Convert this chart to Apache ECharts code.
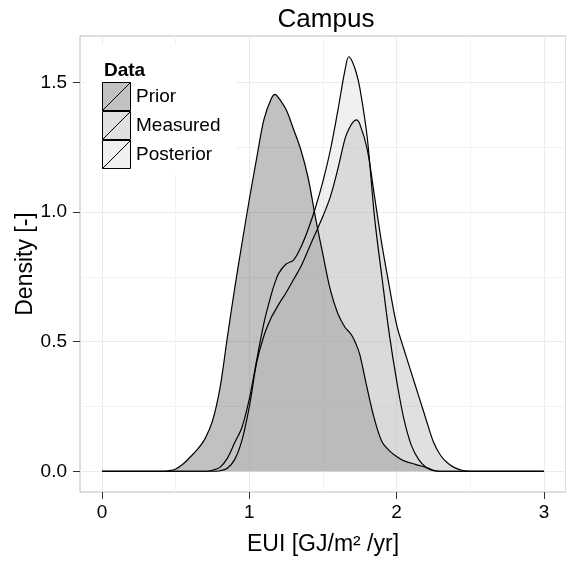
<!DOCTYPE html>
<html>
<head>
<meta charset="utf-8">
<script src="https://cdn.jsdelivr.net/npm/echarts@6/dist/echarts.min.js"></script>
<style>
  html, body { margin: 0; padding: 0; background: #fff; }
  #chart { width: 566px; height: 561px; }
</style>
</head>
<body>
<div id="chart"></div>
<script>
// EUI grid (GJ/m2/yr) shared by the three density estimates
const eui = [0,
  0.40, 0.45, 0.50, 0.55, 0.60, 0.65, 0.70, 0.75, 0.80, 0.85,
  0.90, 0.95, 1.00, 1.05, 1.10, 1.15, 1.175, 1.20, 1.25, 1.30, 1.35,
  1.40, 1.45, 1.50, 1.55, 1.60, 1.65, 1.675, 1.70, 1.725, 1.75, 1.80, 1.85,
  1.90, 1.95, 2.00, 2.05, 2.10, 2.15, 2.20, 2.25, 2.30, 2.35,
  2.40, 2.45, 2.50,
  3];

const prior = [0,
  0, 0.002, 0.009, 0.028, 0.056, 0.086, 0.127, 0.195, 0.32, 0.515,
  0.705, 0.88, 1.05, 1.21, 1.36, 1.44, 1.455, 1.44, 1.395, 1.32, 1.24,
  1.13, 0.975, 0.835, 0.70, 0.61, 0.555, 0.54, 0.52, 0.49, 0.45, 0.32, 0.20,
  0.115, 0.08, 0.057, 0.04, 0.031, 0.023, 0.015, 0.004, 0, 0,
  0, 0, 0,
  0];

const measured = [0,
  0, 0, 0, 0, 0, 0, 0, 0, 0.002, 0.012,
  0.045, 0.12, 0.25, 0.42, 0.525, 0.595, 0.62, 0.645, 0.69, 0.74, 0.79,
  0.855, 0.92, 0.985, 1.06, 1.165, 1.285, 1.32, 1.345, 1.356, 1.34, 1.243, 1.06,
  0.875, 0.715, 0.565, 0.47, 0.38, 0.29, 0.20, 0.113, 0.06, 0.03,
  0.012, 0.003, 0,
  0];

const posterior = [0,
  0, 0, 0, 0, 0, 0, 0, 0.004, 0.015, 0.05,
  0.11, 0.17, 0.28, 0.43, 0.575, 0.685, 0.73, 0.765, 0.80, 0.815, 0.865,
  0.935, 1.02, 1.12, 1.24, 1.39, 1.55, 1.60, 1.58, 1.54, 1.48, 1.29, 0.98,
  0.75, 0.53, 0.35, 0.20, 0.10, 0.045, 0.015, 0.002, 0, 0,
  0, 0, 0,
  0];

const seriesNames = ['Prior', 'Measured', 'Posterior'];
const xTicks = [0, 1, 2, 3];
const xMinor = [0.5, 1.5, 2.5];
const yTicks = [0, 0.5, 1, 1.5];
const yMinor = [0.25, 0.75, 1.25];

const fills = ['rgba(51,51,51,0.3)', 'rgba(153,153,153,0.3)', 'rgba(204,204,204,0.3)'];
const keyFills = ['#c2c2c2', '#e0e0e0', '#f0f0f0'];
const FONT = '"Liberation Sans", Arial, sans-serif';

const toPairs = (ys) => eui.map((x, i) => [x, ys[i]]);
const values = [prior, measured, posterior];

const keyIcon = 'path://M0,0H10V10H0Z M0,10L10,0';

const chart = echarts.init(document.getElementById('chart'), null, { renderer: 'canvas' });

chart.setOption({
  animation: false,
  backgroundColor: '#fff',
  title: [
    {
      text: 'Campus',
      left: 321,
      top: 2,
      textAlign: 'center',
      textStyle: { fontFamily: FONT, fontSize: 26, fontWeight: 'normal', color: '#000' }
    },
    {
      text: 'Data',
      left: 99,
      top: 56,
      textStyle: { fontFamily: FONT, fontSize: 19, fontWeight: 'bold', color: '#000' }
    }
  ],
  legend: {
    orient: 'vertical',
    left: 85,
    top: 45,
    padding: [37, 16, 5, 17],
    backgroundColor: '#fff',
    itemWidth: 29,
    itemHeight: 28,
    itemGap: 0,
    textStyle: { fontFamily: FONT, fontSize: 19, color: '#000' },
    data: seriesNames.map((n, i) => ({
      name: n,
      icon: keyIcon,
      itemStyle: { color: keyFills[i], borderColor: '#000', borderWidth: 1 }
    }))
  },
  grid: {
    left: 80,
    right: -5,
    top: 36,
    bottom: 68,
    show: true,
    borderColor: '#bdbdbd',
    borderWidth: 1,
    backgroundColor: 'transparent'
  },
  xAxis: [
    {
      type: 'value',
      min: -0.15,
      max: 3.15,
      name: 'EUI [GJ/m² /yr]',
      nameLocation: 'middle',
      nameMoveOverlap: false,
      nameGap: 41,
      nameTextStyle: { fontFamily: FONT, fontSize: 23, color: '#000' },
      axisLine: { show: false, onZero: false },
      axisTick: { show: true, length: 7, customValues: xTicks, lineStyle: { color: '#333', width: 1 } },
      axisLabel: { customValues: xTicks, margin: 11, fontFamily: FONT, fontSize: 19, color: '#000' },
      splitLine: { show: true, lineStyle: { color: '#ebebeb', width: 1 } }
    },
    {
      type: 'value',
      min: -0.15,
      max: 3.15,
      axisLine: { show: false, onZero: false },
      axisTick: { show: false, customValues: xMinor },
      axisLabel: { show: false, customValues: xMinor },
      splitLine: { show: true, lineStyle: { color: '#f2f2f2', width: 1 } }
    }
  ],
  yAxis: [
    {
      type: 'value',
      min: -0.08,
      max: 1.68,
      name: 'Density [-]',
      nameLocation: 'middle',
      nameMoveOverlap: false,
      nameGap: 43,
      nameTextStyle: { fontFamily: FONT, fontSize: 23, color: '#000' },
      axisLine: { show: false, onZero: false },
      axisTick: { show: true, length: 7, customValues: yTicks, lineStyle: { color: '#333', width: 1 } },
      axisLabel: {
        customValues: yTicks, margin: 13, fontFamily: FONT, fontSize: 19, color: '#000',
        formatter: (v) => v.toFixed(1)
      },
      splitLine: { show: true, lineStyle: { color: '#ebebeb', width: 1 } }
    },
    {
      type: 'value',
      min: -0.08,
      max: 1.68,
      position: 'left',
      axisLine: { show: false, onZero: false },
      axisTick: { show: false, customValues: yMinor },
      axisLabel: { show: false, customValues: yMinor },
      splitLine: { show: true, lineStyle: { color: '#f2f2f2', width: 1 } }
    }
  ],
  series: seriesNames.map((n, i) => ({
    name: n,
    type: 'line',
    xAxisIndex: 0,
    yAxisIndex: 0,
    data: toPairs(values[i]),
    smooth: 0.35,
    showSymbol: false,
    symbol: 'none',
    lineStyle: { color: '#000', width: 1.2 },
    itemStyle: { color: '#000' },
    areaStyle: { color: fills[i], opacity: 1 },
    emphasis: { disabled: true }
  }))
});
</script>
</body>
</html>
